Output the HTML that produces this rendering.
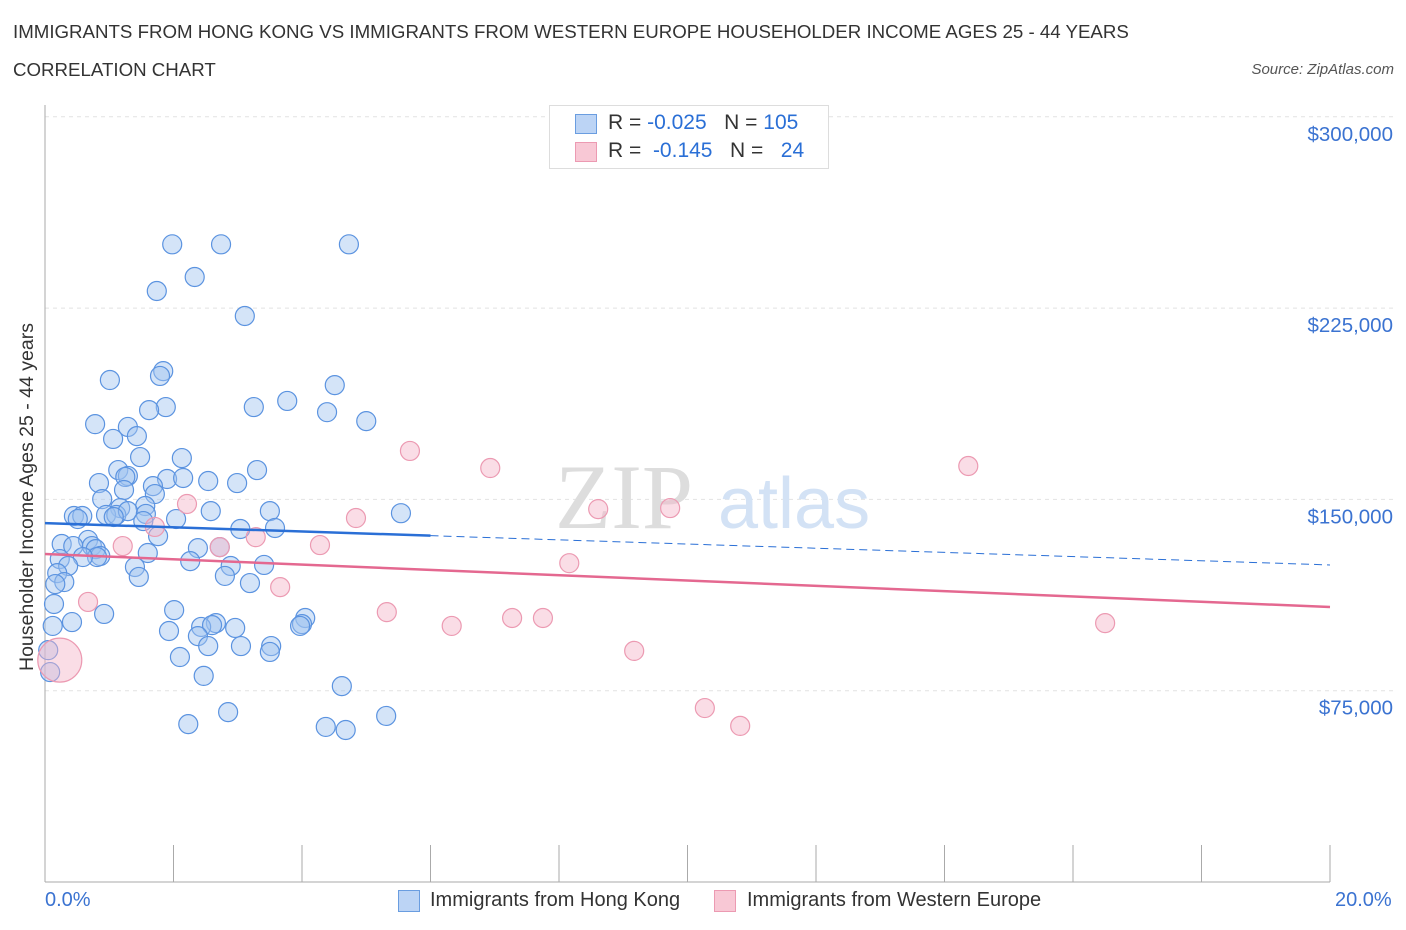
<!DOCTYPE html>
<html><head><meta charset="utf-8"><style>
body{margin:0;background:#fff;font-family:"Liberation Sans",sans-serif;}
#w{position:relative;width:1406px;height:930px;overflow:hidden;}
.t{position:absolute;white-space:nowrap;}
</style></head><body>
<div id="w">
<div class="t" style="left:13px;top:21px;font-size:18.7px;color:#333;">IMMIGRANTS FROM HONG KONG VS IMMIGRANTS FROM WESTERN EUROPE HOUSEHOLDER INCOME AGES 25 - 44 YEARS</div>
<div class="t" style="left:13px;top:59px;font-size:18.7px;color:#333;">CORRELATION CHART</div>
<div class="t" style="right:12px;top:61px;font-size:15px;color:#555;font-style:italic;">Source: ZipAtlas.com</div>
<svg id="s" width="1406" height="930" style="position:absolute;left:0;top:0"></svg>
</div>
<script>
const xTicks=[0,2,4,6,8,10,12,14,16,18,20];
const yTicks=[75000,150000,225000,300000];
const yTickLabels=["$75,000","$150,000","$225,000","$300,000"];
const hkX=[1.98,2.74,4.73,2.33,1.74,3.11,1.84,1.79,1.01,4.51,1.88,3.25,3.77,1.62,4.39,5.00,0.78,1.29,1.43,1.06,1.48,2.13,1.14,3.30,1.29,1.25,1.90,2.15,2.54,0.84,2.99,1.68,1.23,1.71,0.89,1.56,1.17,2.58,3.50,5.54,0.95,0.45,0.58,1.11,1.29,0.51,1.57,2.04,1.07,1.53,3.04,3.58,1.76,0.26,0.67,0.44,0.73,0.79,2.38,2.72,1.60,0.86,0.81,0.59,0.23,0.36,2.26,2.89,3.41,1.40,0.19,1.46,2.80,0.30,0.16,3.19,0.14,2.01,0.92,0.42,4.05,2.66,4.00,2.43,2.60,3.97,0.12,2.96,1.93,2.38,3.52,2.54,3.05,2.10,3.50,0.05,2.47,0.08,4.62,2.85,5.31,2.23,4.37,4.68];
const hkY=[250000,250000,250000,237200,231700,221900,200300,198400,196800,194800,186200,186200,188600,185000,184200,180700,179500,178400,174800,173700,166600,166200,161500,161500,159200,158800,158000,158400,157200,156400,156400,155200,153700,152100,150100,147400,146600,145400,145400,144600,143900,143500,143500,143900,145400,142300,144300,142300,143100,141500,138400,138800,135600,132500,134100,131700,131700,130500,130900,131300,129000,127800,127400,127400,126600,123900,125800,123900,124300,123500,121100,119600,120000,117600,116800,117200,109000,106600,105100,101900,103500,101500,101100,100000,100700,100400,100400,99600,98400,96400,92500,92500,92500,88200,90200,90900,80800,82300,76800,66600,65100,61900,60800,59600];
const weX=[0.23,5.68,6.93,14.37,2.21,4.84,8.61,9.73,1.21,1.71,3.28,2.72,4.28,8.16,3.66,0.67,5.32,6.33,7.27,7.75,16.50,9.17,10.27,10.82];
const weY=[87000,169000,162300,163100,148200,142700,146200,146600,131700,139200,135200,131300,132100,125000,115600,109800,105800,100400,103500,103500,101500,90600,68200,61200];
const hkTrend=[140700,124300];
const weTrend=[128600,107800];
const NS="http://www.w3.org/2000/svg";
const s=document.getElementById('s');
const X=v=>45+v/20*1285;
const Y=v=>882-v/75000*191.3;
function el(t,a){const e=document.createElementNS(NS,t);for(const k in a)e.setAttribute(k,a[k]);s.appendChild(e);return e;}
yTicks.forEach((v,i)=>{
 const g=el('line',{x1:45,x2:1395,y1:Y(v),y2:Y(v),stroke:'#e2e2e2','stroke-dasharray':'4,4'});
 
 
 const t=el('text',{x:1393,y:Y(v)+24,'text-anchor':'end','font-size':20.5,fill:'#3b73d1','font-family':'Liberation Sans'});
 t.textContent=yTickLabels[i];
 
 
});
const ya=el('line',{x1:45,x2:45,y1:105,y2:882,stroke:'#aaa'});


const xa=el('line',{x1:45,x2:1330,y1:882,y2:882,stroke:'#aaa'});


xTicks.forEach(v=>{const l=el('line',{x1:X(v),x2:X(v),y1:845,y2:882,stroke:'#aaa'});
 
 });
const wm=el('text',{x:555,y:528,'font-size':92,fill:'#ddd','font-family':'Liberation Serif'});wm.textContent='ZIP';


const wm2=el('text',{x:718,y:528,'font-size':72,fill:'#d3e2f5','font-family':'Liberation Sans'});wm2.textContent='atlas';


hkX.forEach((x,i)=>{const c=el('circle',{cx:X(x),cy:Y(hkY[i]),r:9.5,fill:'rgba(160,195,240,0.45)',stroke:'#5b93e0','stroke-width':1.2});
 
 });
weX.forEach((x,i)=>{const c=el('circle',{cx:X(x),cy:Y(weY[i]),r:i==0?22:9.5,fill:'rgba(245,180,200,0.45)',stroke:'#ec9ab2','stroke-width':1.2});
 
 });
const hy=x=>hkTrend[0]+(hkTrend[1]-hkTrend[0])*x/20;
const l1=el('line',{x1:X(0),y1:Y(hy(0)),x2:X(6),y2:Y(hy(6)),stroke:'#2a6fd6','stroke-width':2.5});


const l2=el('line',{x1:X(6),y1:Y(hy(6)),x2:X(20),y2:Y(hy(20)),stroke:'#2a6fd6','stroke-width':1,'stroke-dasharray':'8,5'});


const l3=el('line',{x1:X(0),y1:Y(weTrend[0]),x2:X(20),y2:Y(weTrend[1]),stroke:'#e46890','stroke-width':2.5});


</script>
<div class="t" style="left:16px;top:671px;transform:rotate(-90deg);transform-origin:0 0;font-size:19.5px;color:#333;">Householder Income Ages 25 - 44 years</div>
<div class="t" style="left:45px;top:889px;font-size:20px;color:#3b73d1;">0.0%</div>
<div class="t" style="left:1335px;top:889px;font-size:20px;color:#3b73d1;">20.0%</div>
<div style="position:absolute;left:549px;top:105px;width:278px;height:62px;border:1px solid #ddd;background:#fff;font-size:21px;">
 <div class="t" style="left:25px;top:8px;width:20px;height:18px;background:#bcd4f5;border:1px solid #6a9de0;"></div>
 <div class="t" style="left:58px;top:5px;color:#333;">R = <span style="color:#2a6fd6">-0.025</span>&nbsp;&nbsp;&nbsp;N = <span style="color:#2a6fd6">105</span></div>
 <div class="t" style="left:25px;top:36px;width:20px;height:18px;background:#f8c8d5;border:1px solid #ec9ab2;"></div>
 <div class="t" style="left:58px;top:33px;color:#333;">R = &nbsp;<span style="color:#2a6fd6">-0.145</span>&nbsp;&nbsp;&nbsp;N = &nbsp;&nbsp;<span style="color:#2a6fd6">24</span></div>
</div>
<div class="t" style="left:398px;top:890px;width:20px;height:20px;background:#bcd4f5;border:1px solid #6a9de0;"></div>
<div class="t" style="left:430px;top:889px;font-size:20px;color:#333;">Immigrants from Hong Kong</div>
<div class="t" style="left:714px;top:890px;width:20px;height:20px;background:#f8c8d5;border:1px solid #ec9ab2;"></div>
<div class="t" style="left:747px;top:889px;font-size:20px;color:#333;">Immigrants from Western Europe</div>
</body></html>
